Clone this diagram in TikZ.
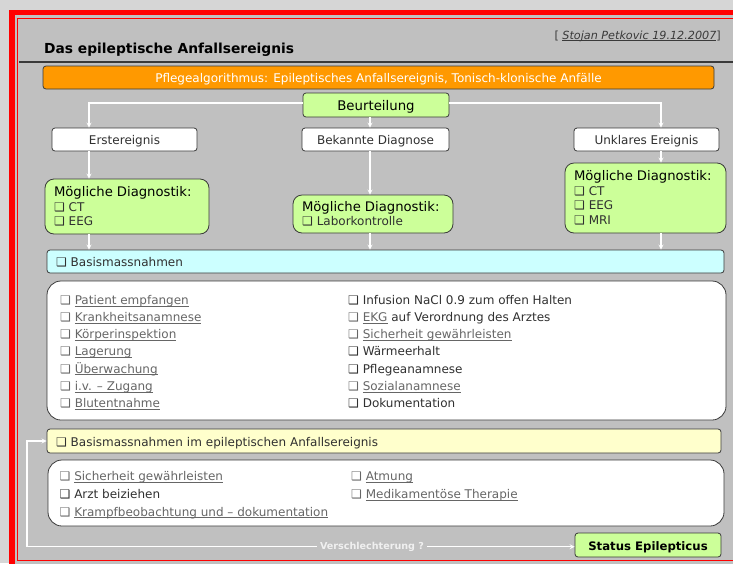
\documentclass[tikz,border=0pt]{standalone}
\usepackage{fontspec}
\setmainfont{DejaVu Sans}
\definecolor{rahmenrot}{HTML}{FF0000}
\definecolor{aussengrau}{HTML}{D6D6D6}
\definecolor{grundgrau}{HTML}{C0C0C0}
\definecolor{randgrau}{HTML}{3A3A3A}
\definecolor{textgrau}{HTML}{303030}
\definecolor{linkgrau}{HTML}{666666}
\definecolor{algoorange}{HTML}{FF9900}
\definecolor{diaggruen}{HTML}{CCFF99}
\definecolor{basiscyan}{HTML}{CCFFFF}
\definecolor{anfallgelb}{HTML}{FFFFCC}

\newsavebox{\ustrbox}
\newcommand{\ustr}[1]{\sbox{\ustrbox}{#1}\rlap{\rule[-2.2pt]{\wd\ustrbox}{0.8pt}}\usebox{\ustrbox}}
\newcommand{\kbox}{❑}
\newcommand{\lpunkt}[1]{\textcolor{linkgrau}{\kbox\ \ustr{#1}}}
\newcommand{\npunkt}[1]{\textcolor{textgrau}{\kbox\ #1}}

\tikzset{
	kasten/.style={draw=randgrau,line width=0.8pt,rounded corners=3pt,inner sep=0pt,text height=10pt,text depth=0pt,font=\fontsize{12}{14}\selectfont},
	diag/.style={draw=randgrau,line width=0.8pt,fill=diaggruen,rounded corners=9pt,inner xsep=9pt,inner ysep=0pt,align=left,text=textgrau,font=\fontsize{12}{14.5}\selectfont},
	liste/.style={draw=randgrau,line width=0.8pt,fill=white,rounded corners=14pt},
	punkt/.style={anchor=base west,inner sep=0pt,font=\fontsize{12}{14}\selectfont},
	pfeil/.style={draw=white,line width=1.2pt,->,>=stealth},
}

\begin{document}
\begin{tikzpicture}[x=1pt,y=-1pt]
	\useasboundingbox (0,0) rectangle (733,563) ;
	% Rahmen
	\fill[aussengrau] (0,0) rectangle (733,563) ;
	\fill[rahmenrot] (9,10) rectangle (745,575) ;
	\fill[grundgrau] (15,15) rectangle (740,570) ;
	\draw[rahmenrot,line width=1pt] (17.5,18.5) rectangle (745,560) ;
	% Kopf
	\node[anchor=base west,inner sep=0pt,font=\fontsize{13.8}{16}\bfseries] (titel) at (44,53) {Das epileptische Anfallsereignis} ;
	\node[anchor=base east,inner sep=0pt,text=randgrau,font=\fontsize{11.2}{14}\selectfont] (autor) at (721,39) {[ \textit{\ustr{Stojan Petkovic 19.12.2007}}]} ;
	\draw[randgrau,line width=1.5pt] (19,62) -- (733,62) ;
	\node[kasten,fill=algoorange,text=white,minimum width=671pt,minimum height=23pt] (algo) at (378.5,77.5) {Pflegealgorithmus: Epileptisches Anfallsereignis, Tonisch-klonische Anfälle} ;
	% Beurteilung
	\coordinate (colA) at (89,0) ;
	\coordinate (colB) at (370,0) ;
	\coordinate (colC) at (661,0) ;
	\node[kasten,fill=diaggruen,minimum width=146pt,minimum height=24pt,font=\fontsize{13.3}{15}\selectfont] (beur) at (376,105) {Beurteilung} ;
	\node[kasten,fill=white,text=textgrau,minimum width=145pt,minimum height=23pt] (erst) at (124.5,139.5) {Erstereignis} ;
	\node[kasten,fill=white,text=textgrau,minimum width=147pt,minimum height=23pt] (bek) at (375.5,139.5) {Bekannte Diagnose} ;
	\node[kasten,fill=white,text=textgrau,minimum width=145pt,minimum height=23pt] (unkl) at (646.5,139.5) {Unklares Ereignis} ;
	\node[diag,text width=146pt,minimum height=55pt] (diagA) at (127,206.5) {{\fontsize{13.2}{14.5}\selectfont\color{black}Mögliche Diagnostik:}\\\kbox\ CT\\\kbox\ EEG} ;
	\node[diag,text width=142pt,minimum height=38pt] (diagB) at (373,214) {{\fontsize{13.2}{14.5}\selectfont\color{black}Mögliche Diagnostik:}\\\kbox\ Laborkontrolle} ;
	\node[diag,text width=143pt,minimum height=70pt] (diagC) at (645.5,198) {{\fontsize{13.2}{14.5}\selectfont\color{black}Mögliche Diagnostik:}\\\kbox\ CT\\\kbox\ EEG\\\kbox\ MRI} ;
	\draw[pfeil] ([yshift=2pt]beur.west) -| (colA |- erst.north) ;
	\draw[pfeil] ([yshift=2pt]beur.east) -| (colC |- unkl.north) ;
	\draw[pfeil] (colB |- beur.south) -- (colB |- bek.north) ;
	\draw[pfeil] (colA |- erst.south) -- (colA |- diagA.north) ;
	\draw[pfeil] (colB |- bek.south) -- (colB |- diagB.north) ;
	\draw[pfeil] (colC |- unkl.south) -- (colC |- diagC.north) ;
	% Basismassnahmen
	\node[kasten,fill=basiscyan,text=textgrau,minimum width=677pt,minimum height=23pt,text width=659pt,align=left] (basis) at (385.5,261.5) {\kbox\ Basismassnahmen} ;
	\draw[pfeil] (colA |- diagA.south) -- (colA |- basis.north) ;
	\draw[pfeil] (colB |- diagB.south) -- (colB |- basis.north) ;
	\draw[pfeil] (colC |- diagC.south) -- (colC |- basis.north) ;
	\node[liste,minimum width=679pt,minimum height=139pt] (liste1) at (386.5,350.5) {} ;
	\node[punkt] (la1) at (60,304.3) {\lpunkt{Patient empfangen}} ;
	\node[punkt] (la2) at (60,321.5) {\lpunkt{Krankheitsanamnese}} ;
	\node[punkt] (la3) at (60,338.6) {\lpunkt{Körperinspektion}} ;
	\node[punkt] (la4) at (60,355.8) {\lpunkt{Lagerung}} ;
	\node[punkt] (la5) at (60,373.0) {\lpunkt{Überwachung}} ;
	\node[punkt] (la6) at (60,390.1) {\lpunkt{i.v. – Zugang}} ;
	\node[punkt] (la7) at (60,407.3) {\lpunkt{Blutentnahme}} ;
	\node[punkt] (lb1) at (348,304.3) {\npunkt{Infusion NaCl 0.9 zum offen Halten}} ;
	\node[punkt] (lb2) at (348,321.5) {\textcolor{linkgrau}{\kbox\ \ustr{EKG}}\textcolor{textgrau}{\ auf Verordnung des Arztes}} ;
	\node[punkt] (lb3) at (348,338.6) {\lpunkt{Sicherheit gewährleisten}} ;
	\node[punkt] (lb4) at (348,355.8) {\npunkt{Wärmeerhalt}} ;
	\node[punkt] (lb5) at (348,373.0) {\npunkt{Pflegeanamnese}} ;
	\node[punkt] (lb6) at (348,390.1) {\lpunkt{Sozialanamnese}} ;
	\node[punkt] (lb7) at (348,407.3) {\npunkt{Dokumentation}} ;
	% Anfallsereignis
	\node[kasten,fill=anfallgelb,text=textgrau,minimum width=674pt,minimum height=24pt,text width=656pt,align=left] (gelb) at (384,441) {\kbox\ Basismassnahmen im epileptischen Anfallsereignis} ;
	\node[liste,minimum width=676pt,minimum height=66pt] (liste2) at (386,493) {} ;
	\node[punkt] (ma1) at (59.5,480.7) {\lpunkt{Sicherheit gewährleisten}} ;
	\node[punkt] (ma2) at (59.5,498.3) {\npunkt{Arzt beiziehen}} ;
	\node[punkt] (ma3) at (59.5,516.0) {\lpunkt{Krampfbeobachtung und – dokumentation}} ;
	\node[punkt] (mb1) at (351,480.7) {\lpunkt{Atmung}} ;
	\node[punkt] (mb2) at (351,498.3) {\lpunkt{Medikamentöse Therapie}} ;
	% Verschlechterung
	\node[kasten,fill=diaggruen,minimum width=146pt,minimum height=24pt,font=\fontsize{11.7}{14}\bfseries] (status) at (648,545) {Status Epilepticus} ;
	\node[inner xsep=3pt,inner ysep=1pt,text=white!94!black,font=\fontsize{9.6}{11}\bfseries] (verl) at (372,546.7) {Verschlechterung ?} ;
	\coordinate (lp) at (27,546.7) ;
	\draw[pfeil] (verl.west) -- (verl.west -| lp) |- (gelb.west) ;
	\draw[pfeil] (verl.east) -- (verl.east -| status.west) ;
\end{tikzpicture}
\end{document}
